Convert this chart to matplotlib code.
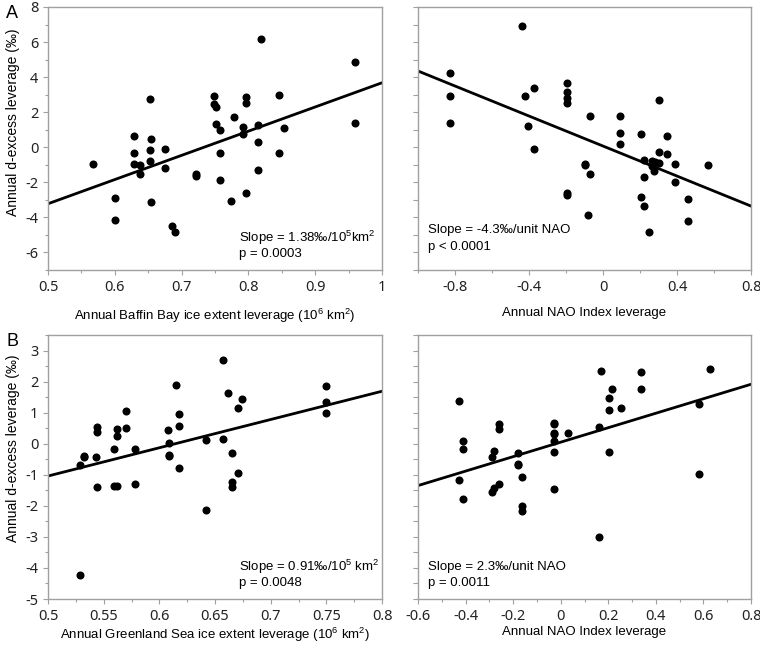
import numpy as np
import matplotlib
matplotlib.use("Agg")
import matplotlib.pyplot as plt
from matplotlib.ticker import MultipleLocator, FuncFormatter

plt.rcParams['font.family'] = ['Liberation Sans', 'DejaVu Sans']
plt.rcParams['axes.unicode_minus'] = False
plt.rcParams['mathtext.fontset'] = 'custom'
plt.rcParams['mathtext.rm'] = 'Liberation Sans'
plt.rcParams['mathtext.it'] = 'Liberation Sans:italic'

# data
baffin_x = [0.568, 0.600, 0.600, 0.628, 0.628, 0.628, 0.638, 0.638, 0.652, 0.652, 0.652, 0.654, 0.654, 0.675,
            0.675, 0.686, 0.690, 0.722, 0.722, 0.748, 0.748, 0.752, 0.752, 0.757, 0.757, 0.757, 0.774, 0.778,
            0.792, 0.792, 0.797, 0.797, 0.797, 0.815, 0.815, 0.815, 0.819, 0.846, 0.846, 0.853, 0.959, 0.959]
baffin_y = [-0.93, -2.90, -4.15, 0.66, -0.30, -0.93, -1.02, -1.53, 2.76, -0.13, -0.78, 0.47, -3.10, -0.10,
            -1.16, -4.47, -4.85, -1.52, -1.61, 2.95, 2.49, 2.31, 1.30, 0.96, -0.30, -1.88, -3.05, 1.70,
            1.13, 0.74, 2.84, 2.51, -2.59, 1.28, 0.32, -1.31, 6.16, 2.97, -0.30, 1.09, 4.86, 1.36]

nao_a_x = [-0.438, -0.825, -0.825, -0.825, -0.419, -0.374, -0.404, -0.374, -0.194, -0.194, -0.194, -0.194,
           -0.194, -0.194, -0.068, -0.095, -0.095, -0.068, -0.080, 0.093, 0.093, 0.093, 0.206, 0.300, 0.348,
           0.300, 0.348, 0.220, 0.264, 0.283, 0.300, 0.264, 0.278, 0.391, 0.568, 0.220, 0.391, 0.206, 0.220,
           0.462, 0.462, 0.246]
nao_a_y = [6.92, 4.22, 2.93, 1.36, 2.93, 3.40, 1.23, -0.08, 3.65, 3.18, 2.82, 2.51, -2.61, -2.73, 1.78,
           -0.93, -1.02, -1.53, -3.84, 1.78, 0.79, 0.19, 0.75, 2.68, 0.62, -0.25, -0.36, -0.74, -0.76, -0.83,
           -0.87, -1.08, -1.35, -0.93, -0.99, -1.70, -1.99, -2.84, -3.33, -2.95, -4.20, -4.81]

gs_x = [0.529, 0.529, 0.532, 0.532, 0.543, 0.544, 0.544, 0.544, 0.559, 0.559, 0.562, 0.562, 0.562, 0.570,
        0.570, 0.578, 0.578, 0.6075, 0.609, 0.609, 0.609, 0.615, 0.618, 0.618, 0.618, 0.642, 0.642, 0.657,
        0.657, 0.662, 0.674, 0.671, 0.665, 0.671, 0.665, 0.665, 0.750, 0.750, 0.750]
gs_y = [-4.23, -0.67, -0.38, -0.44, -0.43, 0.54, 0.37, -1.40, -0.16, -1.35, -1.36, 0.49, 0.25, 1.06,
        0.50, -0.16, -1.29, 0.44, 0.02, -0.36, -0.40, 1.88, 0.97, 0.56, -0.78, 0.11, -2.13, 2.68,
        0.16, 1.62, 1.44, 1.16, -0.31, -0.94, -1.22, -1.40, 1.86, 1.33, 0.99]

nao_b_x = [-0.426, -0.426, -0.410, -0.410, -0.410, -0.261, -0.261, -0.282, -0.289, -0.261, -0.282, -0.289,
           -0.180, -0.180, -0.180, -0.162, -0.162, -0.162, -0.030, -0.030, -0.030, -0.030, -0.030, -0.030,
           -0.030, 0.032, 0.169, 0.159, 0.159, 0.214, 0.203, 0.203, 0.203, 0.253, 0.338, 0.338, 0.580,
           0.580, 0.626]
nao_b_y = [1.37, -1.16, 0.08, -0.17, -1.77, 0.64, 0.47, -0.24, -0.43, -1.30, -1.43, -1.57, -0.31, -0.66,
           -0.70, -1.08, -2.00, -2.17, 0.66, 0.63, 0.36, 0.32, 0.10, -0.26, -1.45, 0.36, 2.33, 0.54, -3.01,
           1.75, 1.46, 1.07, -0.27, 1.15, 2.32, 1.75, 1.28, -0.97, 2.42]

# regression lines (slope, intercept)
fit_baffin = (13.8, -10.12)
fit_nao_a = (-4.28, 0.07)
fit_gs = (9.1, -5.59)
fit_nao_b = (2.33, 0.05)

ylab = "Annual d-excess leverage (‰)"
grey = "#a0a0a0"


def gfmt(v, pos):
    return "%g" % round(v, 3)


def panel(ax, x, y, fit, xlim, ylim, xmaj, xmin, ymaj, ymin, showy):
    ax.plot(x, y, "o", color="black", markersize=5.8, markeredgewidth=0)
    xs = np.array(xlim)
    ax.plot(xs, fit[0] * xs + fit[1], color="black", lw=2)
    ax.set_xlim(xlim)
    ax.set_ylim(ylim)
    ax.xaxis.set_major_locator(MultipleLocator(xmaj))
    ax.xaxis.set_minor_locator(MultipleLocator(xmin))
    ax.yaxis.set_major_locator(MultipleLocator(ymaj))
    ax.yaxis.set_minor_locator(MultipleLocator(ymin))
    ax.xaxis.set_major_formatter(FuncFormatter(gfmt))
    ax.yaxis.set_major_formatter(FuncFormatter(gfmt))
    for s in ax.spines.values():
        s.set_color(grey)
        s.set_linewidth(1)
    ax.tick_params(which="both", direction="out", color=grey, width=0.8, labelsize=10.5,
                   labelcolor="#222222", top=False, right=False)
    ax.tick_params(which="major", length=3.5)
    ax.tick_params(which="minor", length=2.5)
    for lab in ax.get_xticklabels() + ax.get_yticklabels():
        lab.set_family(["Noto Sans", "DejaVu Sans"])
    if not showy:
        ax.tick_params(axis="y", which="both", labelleft=False)


fig = plt.figure(figsize=(7.6, 6.48), dpi=100)

ax1 = fig.add_axes([0.0632, 0.5833, 0.4395, 0.4059])
ax2 = fig.add_axes([0.55, 0.5833, 0.4382, 0.4059])
ax3 = fig.add_axes([0.0632, 0.0756, 0.4395, 0.4074])
ax4 = fig.add_axes([0.55, 0.0756, 0.4382, 0.4074])

# A
panel(ax1, baffin_x, baffin_y, fit_baffin, (0.5, 1.0), (-7, 8), 0.1, 0.05, 2, 1, True)
panel(ax2, nao_a_x, nao_a_y, fit_nao_a, (-1.0, 0.8), (-7, 8), 0.4, 0.2, 1, 1, False)
ax2.set_xticks([-0.8, -0.4, 0, 0.4, 0.8])
for lab in ax2.get_xticklabels():
    lab.set_family(["Noto Sans", "DejaVu Sans"])

# B
panel(ax3, gs_x, gs_y, fit_gs, (0.5, 0.8), (-5, 3.5), 0.05, 0.025, 1, 0.5, True)
panel(ax4, nao_b_x, nao_b_y, fit_nao_b, (-0.6, 0.8), (-5, 3.5), 0.2, 0.1, 0.5, 0.5, False)

ax1.set_xlabel(r"Annual Baffin Bay ice extent leverage (10$^{6}$ km$^{2}$)", fontsize=9.5)
ax2.set_xlabel("Annual NAO Index leverage", fontsize=9.5)
ax3.set_xlabel(r"Annual Greenland Sea ice extent leverage (10$^{6}$ km$^{2}$)", fontsize=9.5)
ax4.set_xlabel("Annual NAO Index leverage", fontsize=9.5)
ax1.xaxis.set_label_coords(0.5, -0.141)
ax2.xaxis.set_label_coords(0.5, -0.141)
ax3.xaxis.set_label_coords(0.5, -0.102)
ax4.xaxis.set_label_coords(0.5, -0.102)

ax1.set_ylabel(ylab, fontsize=10)
ax3.set_ylabel(ylab, fontsize=10)
ax1.yaxis.set_label_coords(-0.085, 0.56)
ax3.yaxis.set_label_coords(-0.085, 0.572)

# slope annotations
ax1.text(0.572, 0.122, r"Slope = 1.38‰/10$^{5}$km$^{2}$", transform=ax1.transAxes, fontsize=9.5, va="center")
ax1.text(0.572, 0.061, "p = 0.0003", transform=ax1.transAxes, fontsize=9.5, va="center")
ax2.text(0.03, 0.152, "Slope = -4.3‰/unit NAO", transform=ax2.transAxes, fontsize=9.5, va="center")
ax2.text(0.03, 0.087, "p < 0.0001", transform=ax2.transAxes, fontsize=9.5, va="center")
ax3.text(0.572, 0.121, r"Slope = 0.91‰/10$^{5}$ km$^{2}$", transform=ax3.transAxes, fontsize=9.5, va="center")
ax3.text(0.572, 0.061, "p = 0.0048", transform=ax3.transAxes, fontsize=9.5, va="center")
ax4.text(0.03, 0.121, "Slope = 2.3‰/unit NAO", transform=ax4.transAxes, fontsize=9.5, va="center")
ax4.text(0.03, 0.061, "p = 0.0011", transform=ax4.transAxes, fontsize=9.5, va="center")

# panel letters
fig.text(6 / 760, 1 - 13 / 648, "A", fontsize=13, va="center", ha="left")
fig.text(6 / 760, 1 - 341 / 648, "B", fontsize=13, va="center", ha="left")

fig.savefig("out.png", dpi=100)
